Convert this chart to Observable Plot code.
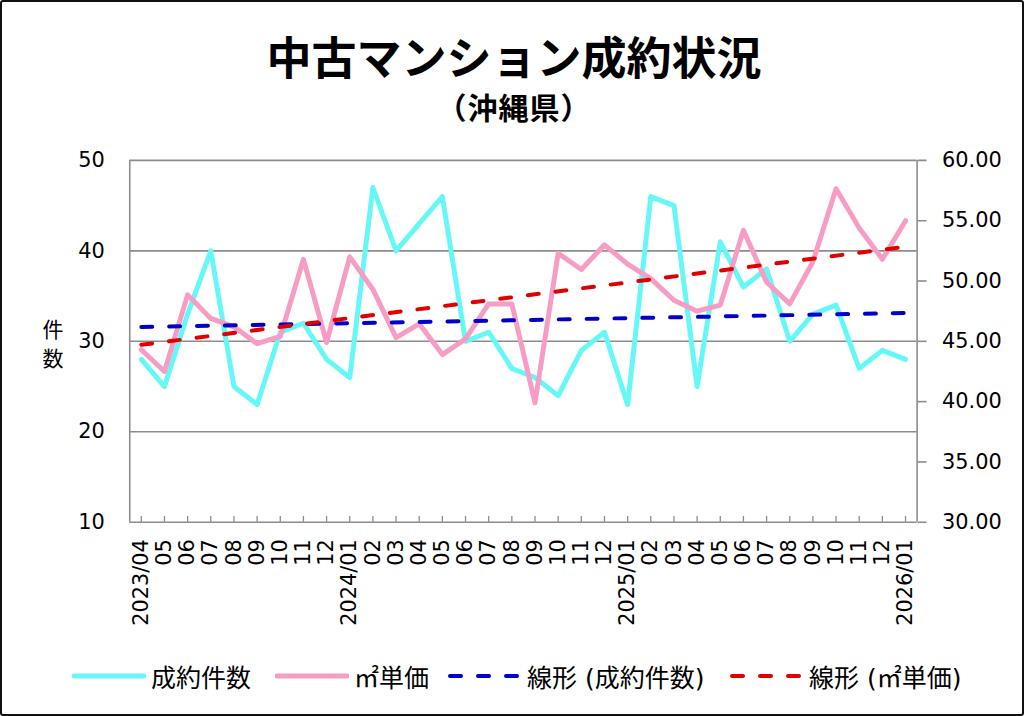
<!DOCTYPE html>
<html><head><meta charset="utf-8">
<script src="https://cdn.jsdelivr.net/npm/d3@7"></script>
<script src="https://cdn.jsdelivr.net/npm/@observablehq/plot@0.6"></script>
<style>
html,body{margin:0;padding:0;background:#fff;}
#wrap{position:relative;width:1024px;height:716px;box-sizing:border-box;border:2px solid #111;border-radius:3px;overflow:hidden;background:#fff;font-family:"DejaVu Sans","Noto Sans CJK JP",sans-serif;}
#title{position:absolute;left:0;width:1024px;top:27px;text-align:center;font-family:"Noto Sans CJK JP";font-weight:700;font-size:45px;line-height:54px;color:#000;}
#sub{position:absolute;left:0;width:1024px;top:87px;text-align:center;font-family:"Noto Sans CJK JP";font-weight:700;font-size:30px;line-height:34px;letter-spacing:1px;color:#000;}
.yl{position:absolute;left:38px;width:26px;font-family:"Noto Sans CJK JP";font-size:21px;line-height:21px;height:21px;text-align:center;color:#000;}
#chart{position:absolute;left:-2px;top:138px;}
.lg{position:absolute;top:656px;height:36px;display:flex;align-items:center;font-family:"DejaVu Sans","Noto Sans CJK JP";font-size:25px;color:#000;white-space:nowrap;}
.lg svg{margin-right:5px;}
</style></head>
<body>
<div id="wrap">
  <div id="title">中古マンション成約状況</div>
  <div id="sub">（沖縄県）</div>
  <div class="yl" style="top:316px">件</div>
  <div class="yl" style="top:345px">数</div>
  <div id="chart"></div>
  <div id="legend"></div>
</div>
<script>
const months = ["2023/04","05","06","07","08","09","10","11","12",
  "2024/01","02","03","04","05","06","07","08","09","10","11","12",
  "2025/01","02","03","04","05","06","07","08","09","10","11","12",
  "2026/01"];
const counts = [28,25,33,40,25,23,31,32,28,26,47,40,43,46,30,31,27,26,24,29,31,23,46,45,25,41,36,38,30,33,34,27,29,28];
const prices = [44.3,42.5,48.85,46.9,46.2,44.8,45.4,51.8,44.9,52.0,49.3,45.3,46.45,43.9,45.2,48.1,48.1,39.9,52.3,50.95,53.0,51.4,50.2,48.4,47.5,48.0,54.2,49.9,48.1,51.6,57.65,54.4,51.8,55.0];
const leftTicks = [10,20,30,40,50];
const rightTicks = [30,35,40,45,50,55,60];
const seriesNames = ["成約件数","㎡単価","線形 (成約件数)","線形 (㎡単価)"];
const seriesColors = ["#66f7f7","#f79cc4","#0000cc","#e00000"];

// right axis (30..60) mapped onto left axis (10..50)
const toLeft = p => 10 + (p - 30) / 0.75;
const toRight = v => 30 + (v - 10) * 0.75;

const data = months.map((m, i) => ({i, m, count: counts[i], price: prices[i], priceL: toLeft(prices[i])}));
const idx = months.map((_, i) => i);
const gray = "#8c8c8c";
const dash = "11 17";

const plot = Plot.plot({
  width: 1028, height: 500,
  marginTop: 20, marginBottom: 116, marginLeft: 130, marginRight: 106,
  style: {fontFamily: "DejaVu Sans", fontSize: "21px", color: "#000", background: "transparent"},
  x: {type: "linear", domain: [-0.5, months.length - 0.5]},
  y: {domain: [10, 50]},
  marks: [
    Plot.ruleY(leftTicks, {stroke: gray, strokeWidth: 1.6}),
    Plot.ruleX([-0.5, months.length - 0.5], {stroke: gray, strokeWidth: 1.6}),
    Plot.ruleX(idx, {x: d => d, y1: 10, y2: 10.65, stroke: gray, strokeWidth: 1.3}),
    Plot.axisY({anchor: "left", ticks: leftTicks, tickSize: 0, tickPadding: 25, label: null}),
    Plot.axisY({anchor: "right", ticks: rightTicks.map(toLeft), tickFormat: v => toRight(v).toFixed(2),
      tickSize: 9, tickPadding: 16, stroke: gray, strokeWidth: 1.6, label: null}),
    Plot.axisX({ticks: idx, tickFormat: i => months[i], tickRotate: -90, tickSize: 0, tickPadding: 17, label: null}),
    Plot.line(data, {x: "i", y: "count", stroke: seriesColors[0], strokeWidth: 5, strokeLinejoin: "round"}),
    Plot.line(data, {x: "i", y: "priceL", stroke: seriesColors[1], strokeWidth: 5, strokeLinejoin: "round"}),
    Plot.linearRegressionY(data, {x: "i", y: "count", stroke: seriesColors[2], strokeWidth: 4, strokeDasharray: dash, strokeLinecap: "round", ci: 0}),
    Plot.linearRegressionY(data, {x: "i", y: "priceL", stroke: seriesColors[3], strokeWidth: 4, strokeDasharray: dash, strokeLinecap: "round", ci: 0})
  ]
});
document.getElementById("chart").appendChild(plot);

// legend
const lgLeft = [70, 273, 446, 728];
const legend = document.getElementById("legend");
seriesNames.forEach((name, k) => {
  const div = document.createElement("div");
  div.className = "lg";
  div.style.left = lgLeft[k] + "px";
  const dashed = k >= 2;
  div.innerHTML = `<svg width="74" height="12"><line x1="2" y1="6" x2="72" y2="6" stroke="${seriesColors[k]}" stroke-width="${dashed ? 4 : 5}" stroke-linecap="round" ${dashed ? `stroke-dasharray="${dash}"` : ""}/></svg><span>${name}</span>`;
  legend.appendChild(div);
});
</script>
</body></html>
